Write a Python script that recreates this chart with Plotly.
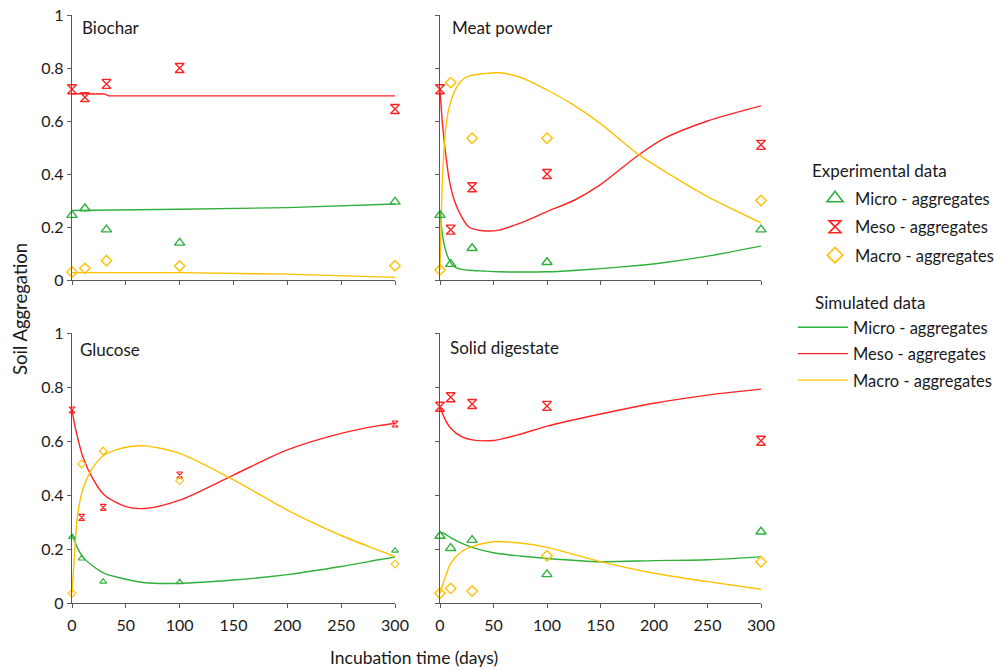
import plotly.graph_objects as go

# ---------------- data ----------------
# Biochar
bc_days = [0, 12, 32, 100, 300]
bc_micro = [0.245, 0.27, 0.19, 0.14, 0.295]
bc_meso = [0.72, 0.69, 0.74, 0.80, 0.645]
bc_macro = [0.03, 0.044, 0.073, 0.053, 0.054]
bc_sim_t = [0, 30, 34, 100, 200, 300]
bc_sim_micro = [0.262, 0.263, 0.263, 0.267, 0.273, 0.287]
bc_sim_meso = [0.703, 0.702, 0.695, 0.695, 0.695, 0.695]
bc_sim_macro = [0.028, 0.028, 0.028, 0.028, 0.022, 0.010]

# Meat powder
mp_days = [0, 10, 30, 100, 300]
mp_micro = [0.245, 0.06, 0.12, 0.067, 0.19]
mp_meso = [0.72, 0.19, 0.35, 0.40, 0.51]
mp_macro = [0.038, 0.745, 0.535, 0.535, 0.30]
mp_sim_t = [0, 2.5, 5.6, 8.7, 13.4, 20, 27, 40, 55, 75, 100, 125, 150, 185, 210, 250, 300]
mp_sim_micro = [0.264, 0.164, 0.107, 0.075, 0.05, 0.04, 0.037, 0.034, 0.031, 0.03,
                0.031, 0.036, 0.043, 0.055, 0.066, 0.09, 0.128]
mp_sim_meso = [0.717, 0.58, 0.465, 0.377, 0.30, 0.24, 0.20, 0.186, 0.188, 0.215,
               0.258, 0.30, 0.36, 0.47, 0.535, 0.60, 0.657]
mp_sim_macro = [0.038, 0.40, 0.58, 0.654, 0.71, 0.752, 0.77, 0.778, 0.782, 0.765,
                0.717, 0.66, 0.59, 0.475, 0.41, 0.315, 0.216]

# Glucose
gl_days = [0, 9, 29, 100, 300]
gl_micro = [0.245, 0.165, 0.079, 0.077, 0.194]
gl_meso = [0.715, 0.317, 0.354, 0.474, 0.663]
gl_macro = [0.036, 0.515, 0.563, 0.453, 0.144]
gl_sim_t = [0, 3, 5, 10, 20, 30, 50, 68, 100, 150, 200, 250, 285, 300]
gl_sim_micro = [0.255, 0.225, 0.205, 0.171, 0.135, 0.11, 0.088, 0.075, 0.073, 0.085,
                0.105, 0.135, 0.16, 0.17]
gl_sim_meso = [0.715, 0.65, 0.616, 0.542, 0.456, 0.40, 0.357, 0.35, 0.381, 0.474,
               0.567, 0.628, 0.657, 0.665]
gl_sim_macro = [0.036, 0.22, 0.32, 0.42, 0.505, 0.548, 0.577, 0.582, 0.554, 0.456,
                0.344, 0.25, 0.195, 0.172]

# Solid digestate
sd_days = [0, 10, 30, 100, 300]
sd_micro = [0.248, 0.203, 0.233, 0.106, 0.264]
sd_meso = [0.727, 0.762, 0.737, 0.73, 0.601]
sd_macro = [0.036, 0.054, 0.044, 0.175, 0.153]
sd_sim_t = [0, 5, 10, 20, 30, 50, 75, 100, 150, 200, 250, 300]
sd_sim_micro = [0.262, 0.255, 0.242, 0.222, 0.206, 0.186, 0.174, 0.165, 0.153, 0.157, 0.16, 0.171]
sd_sim_meso = [0.725, 0.678, 0.647, 0.616, 0.604, 0.602, 0.625, 0.655, 0.70, 0.74, 0.77, 0.792]
sd_sim_macro = [0.036, 0.097, 0.147, 0.19, 0.209, 0.227, 0.222, 0.206, 0.153, 0.11, 0.079, 0.051]

panel_names = ["Biochar", "Meat powder", "Glucose", "Solid digestate"]
x_ticks = [0, 50, 100, 150, 200, 250, 300]
y_ticks = [0, 0.2, 0.4, 0.6, 0.8, 1]
class_labels = ["Micro - aggregates", "Meso - aggregates", "Macro - aggregates"]

# ---------------- styling ----------------
W, H = 999, 670
GREEN = "#2fb03c"
RED = "#ff2424"
GOLD = "#ffc000"
AXIS = "#595959"
FONT = "Lato"
TXT = "#1a1a1a"


def fx(p):
    return p / W


def fy(p):
    return 1 - p / H


x_dom = {"L": [fx(72), fx(395)], "R": [fx(440), fx(761)]}
y_dom = {"T": [fy(280), fy(15)], "B": [fy(603), fy(333)]}

panels = [
    dict(name=panel_names[0], pos=("L", "T"), days=bc_days,
         obs=[bc_micro, bc_meso, bc_macro], t=bc_sim_t,
         sim=[bc_sim_micro, bc_sim_meso, bc_sim_macro], small=False, shape="linear"),
    dict(name=panel_names[1], pos=("R", "T"), days=mp_days,
         obs=[mp_micro, mp_meso, mp_macro], t=mp_sim_t,
         sim=[mp_sim_micro, mp_sim_meso, mp_sim_macro], small=False, shape="spline"),
    dict(name=panel_names[2], pos=("L", "B"), days=gl_days,
         obs=[gl_micro, gl_meso, gl_macro], t=gl_sim_t,
         sim=[gl_sim_micro, gl_sim_meso, gl_sim_macro], small=True, shape="spline"),
    dict(name=panel_names[3], pos=("R", "B"), days=sd_days,
         obs=[sd_micro, sd_meso, sd_macro], t=sd_sim_t,
         sim=[sd_sim_micro, sd_sim_meso, sd_sim_macro], small=False, shape="spline"),
]

colors = [GREEN, RED, GOLD]
symbols = ["triangle-up-open", "hourglass-open", "diamond-open"]
sizes = [9, 9, 8]
small_sizes = [6, 6, 6]
legend_sizes = [14, 12, 12]
keys = ["micro", "meso", "macro"]

fig = go.Figure()
layout = dict(
    width=W, height=H,
    margin=dict(l=0, r=0, t=0, b=0, autoexpand=False),
    paper_bgcolor="white", plot_bgcolor="white",
    font=dict(family=FONT, size=16, color=TXT),
    annotations=[],
)

for i, p in enumerate(panels):
    n = i + 1
    sfx = "" if n == 1 else str(n)
    xa, ya = "x" + sfx, "y" + sfx
    col, row = p["pos"]
    bottom = row == "B"
    left = col == "L"
    layout["xaxis" + sfx] = dict(
        domain=x_dom[col], anchor=ya, range=[0, 300],
        tickvals=x_ticks, showticklabels=bottom,
        ticks="outside", ticklen=4, tickwidth=1, tickcolor=AXIS,
        showline=True, linecolor=AXIS, linewidth=1.3,
        showgrid=False, zeroline=False, automargin=False,
        tickfont=dict(size=16, color=TXT), ticklabelstandoff=4,
        fixedrange=True,
    )
    layout["yaxis" + sfx] = dict(
        domain=y_dom[row], anchor=xa, range=[0, 1],
        tickvals=y_ticks, showticklabels=left,
        ticks="outside", ticklen=4, tickwidth=1, tickcolor=AXIS,
        showline=True, linecolor=AXIS, linewidth=1.3,
        showgrid=False, zeroline=False, automargin=False,
        tickfont=dict(size=16, color=TXT),
        fixedrange=True,
    )
    # simulated curves
    for k in range(3):
        line = dict(color=colors[k], width=1.4, shape=p["shape"])
        if p["shape"] == "spline":
            line["smoothing"] = 0.8
        fig.add_trace(go.Scatter(
            x=p["t"], y=p["sim"][k], mode="lines", line=line,
            name=class_labels[k], legend="legend2",
            legendgroup="sim_" + keys[k], showlegend=(n == 1),
            xaxis=xa, yaxis=ya, hoverinfo="x+y",
        ))
    # experimental points
    for k in range(3):
        size = small_sizes[k] if p["small"] else sizes[k]
        fig.add_trace(go.Scatter(
            x=p["days"], y=p["obs"][k], mode="markers",
            marker=dict(symbol=symbols[k], size=size, color=colors[k],
                        line=dict(color=colors[k], width=1.1 if p["small"] else 1.4)),
            name=class_labels[k], legendgroup="exp_" + keys[k], showlegend=False,
            cliponaxis=False, xaxis=xa, yaxis=ya, hoverinfo="x+y",
        ))

# legend entries for the measured series, with larger key symbols
for k in range(3):
    fig.add_trace(go.Scatter(
        x=[None], y=[None], mode="markers",
        marker=dict(symbol=symbols[k], size=legend_sizes[k], color=colors[k],
                    line=dict(color=colors[k], width=1.6)),
        name=class_labels[k], legend="legend", legendgroup="exp_" + keys[k],
        showlegend=True, xaxis="x", yaxis="y",
    ))

# panel titles
title_pos = [(0.025, 0.951), (0.031, 0.951), (0.02, 0.94), (0.025, 0.948)]
for i, p in enumerate(panels):
    sfx = "" if i == 0 else str(i + 1)
    layout["annotations"].append(dict(
        text=p["name"], xref="x" + sfx + " domain", yref="y" + sfx + " domain",
        x=title_pos[i][0], y=title_pos[i][1], xanchor="left", yanchor="middle",
        showarrow=False, font=dict(size=17, color=TXT),
    ))

# shared axis titles
layout["annotations"].append(dict(
    text="Soil Aggregation", xref="paper", yref="paper", x=fx(20), y=fy(309),
    textangle=-90, showarrow=False, font=dict(size=18.5, color=TXT),
    xanchor="center", yanchor="middle",
))
layout["annotations"].append(dict(
    text="Incubation time (days)", xref="paper", yref="paper", x=fx(414), y=fy(657),
    showarrow=False, font=dict(size=17.5, color=TXT), xanchor="center", yanchor="middle",
))

# legend headings
layout["annotations"].append(dict(
    text="Experimental data", xref="paper", yref="paper", x=fx(810), y=fy(170),
    xanchor="left", yanchor="middle", showarrow=False, font=dict(size=17, color=TXT),
))
layout["annotations"].append(dict(
    text="Simulated data", xref="paper", yref="paper", x=fx(813), y=fy(302),
    xanchor="left", yanchor="middle", showarrow=False, font=dict(size=17, color=TXT),
))

layout["legend"] = dict(
    x=fx(815), y=fy(181), xanchor="left", yanchor="top",
    bgcolor="rgba(0,0,0,0)", borderwidth=0, tracegroupgap=4,
    font=dict(size=16.5, color=TXT), itemwidth=30, itemsizing="trace",
)
layout["legend2"] = dict(
    x=fx(793), y=fy(310), xanchor="left", yanchor="top",
    bgcolor="rgba(0,0,0,0)", borderwidth=0, tracegroupgap=2,
    font=dict(size=16.5, color=TXT), itemwidth=50,
)

fig.update_layout(**layout)
fig.write_html("out.html")
